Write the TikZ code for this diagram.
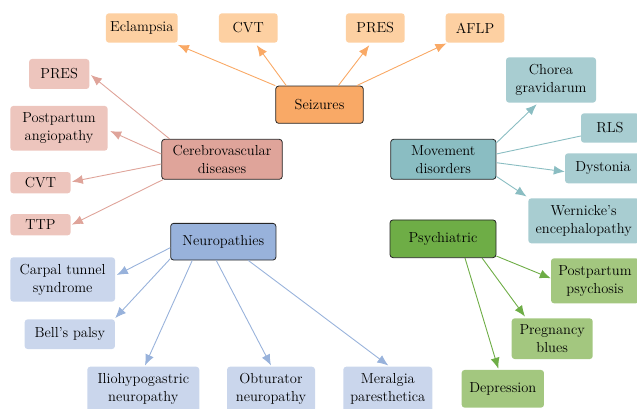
\documentclass[tikz,border=0pt]{standalone}
\usepackage{fontspec}
\usetikzlibrary{arrows.meta}
\definecolor{cSm}{HTML}{F9A966}\definecolor{cSl}{HTML}{FDD0A2}
\definecolor{cCm}{HTML}{DFA49A}\definecolor{cCl}{HTML}{EDC5BD}
\definecolor{cMm}{HTML}{8ABDC2}\definecolor{cMl}{HTML}{A8CDD1}
\definecolor{cNm}{HTML}{98B2DB}\definecolor{cNl}{HTML}{CAD6EC}
\definecolor{cPm}{HTML}{6EAD46}\definecolor{cPl}{HTML}{A3C77F}
\begin{document}
\begin{tikzpicture}[x=1pt,y=-1pt,
  font=\fontsize{14.5}{18}\selectfont,
  box/.style={rounded corners=3pt, inner sep=0pt, align=center, text=black},
  mainbox/.style={box, draw=black!85, line width=0.8pt},
  leafbox/.style={box},
  arr/.style={line width=0.9pt, -{Latex[length=11pt,width=9pt]}},
  lin/.style={line width=0.9pt}]
\useasboundingbox (0,0) rectangle (637,409);
\clip (0,0) rectangle (637,409);
% Seizures
\node[mainbox, fill=cSm, minimum width=87.6pt, minimum height=37.3pt] (seiz) at (319.5,104.7) {Seizures};
\node[leafbox, fill=cSl, minimum width=71.7pt, minimum height=29.4pt] (ecl) at (141.8,28) {Eclampsia};
\node[leafbox, fill=cSl, minimum width=58.7pt, minimum height=29.4pt] (cvta) at (248.3,28) {CVT};
\node[leafbox, fill=cSl, minimum width=58.7pt, minimum height=29.4pt] (presa) at (375.3,28) {PRES};
\node[leafbox, fill=cSl, minimum width=58.7pt, minimum height=29.4pt] (aflp) at (475,28) {AFLP};
% Cerebrovascular
\node[mainbox, fill=cCm, minimum width=120.6pt, minimum height=40pt] (cer) at (222,159.3) {Cerebrovascular\\diseases};
\node[leafbox, fill=cCl, minimum width=60.3pt, minimum height=30pt] (presb) at (59.2,74) {PRES};
\node[leafbox, fill=cCl, minimum width=97.3pt, minimum height=44.7pt] (ppa) at (59,128.3) {Postpartum\\angiopathy};
\node[leafbox, fill=cCl, minimum width=60.3pt, minimum height=21.3pt] (cvtb) at (40.5,182.7) {CVT};
\node[leafbox, fill=cCl, minimum width=60.3pt, minimum height=21.3pt] (ttp) at (40.5,224.7) {TTP};
% Movement
\node[mainbox, fill=cMm, minimum width=105.3pt, minimum height=40pt] (mov) at (443.3,159.3) {Movement\\disorders};
\node[leafbox, fill=cMl, minimum width=90pt, minimum height=45.3pt] (cho) at (551,80) {Chorea\\gravidarum};
\node[leafbox, fill=cMl, minimum width=58pt, minimum height=29.4pt] (rls) at (610,128) {RLS};
\node[leafbox, fill=cMl, minimum width=76pt, minimum height=30pt] (dys) at (603,168.3) {Dystonia};
\node[leafbox, fill=cMl, minimum width=110.7pt, minimum height=45pt] (wer) at (583.7,220.8) {Wernicke’s\\encephalopathy};
% Neuropathies
\node[mainbox, fill=cNm, minimum width=105.3pt, minimum height=36.7pt] (neu) at (223.3,241.7) {Neuropathies};
\node[leafbox, fill=cNl, minimum width=104.7pt, minimum height=44.3pt] (cts) at (62.7,279.5) {Carpal tunnel\\syndrome};
\node[leafbox, fill=cNl, minimum width=90.3pt, minimum height=29.7pt] (bell) at (69.8,334.2) {Bell’s palsy};
\node[leafbox, fill=cNl, minimum width=112pt, minimum height=45pt] (ilio) at (143.3,389.2) {Iliohypogastric\\neuropathy};
\node[leafbox, fill=cNl, minimum width=88pt, minimum height=45pt] (obt) at (271,389.2) {Obturator\\neuropathy};
\node[leafbox, fill=cNl, minimum width=89pt, minimum height=45pt] (mer) at (387.8,389.2) {Meralgia\\paresthetica};
% Psychiatric
\node[mainbox, fill=cPm, minimum width=106pt, minimum height=37.7pt] (psy) at (443,238.8) {Psychiatric};
\node[leafbox, fill=cPl, minimum width=88pt, minimum height=45pt] (pps) at (595,280.8) {Postpartum\\psychosis};
\node[leafbox, fill=cPl, minimum width=81pt, minimum height=40.7pt] (pb) at (552.2,338.7) {Pregnancy\\blues};
\node[leafbox, fill=cPl, minimum width=82.3pt, minimum height=37.7pt] (dep) at (502.8,388.8) {Depression};
% Edges: Seizures
\begin{scope}[draw=cSm]
\draw[arr] (seiz.north west) -- ([yshift=-2pt]ecl.south east);
\draw[arr] ([xshift=11pt]seiz.north west) -- ([xshift=8.4pt,yshift=-2.3pt]cvta.south);
\draw[arr] ([xshift=18.8pt]seiz.north) -- ([xshift=-6pt,yshift=-2.3pt]presa.south);
\draw[arr] ([xshift=37.2pt]seiz.north) -- ([xshift=1pt,yshift=-0.5pt]aflp.south west);
\end{scope}
% Edges: Cerebrovascular
\begin{scope}[draw=cCm]
\draw[arr] ([xshift=8.3pt]cer.north west) -- ([xshift=1.3pt,yshift=-1pt]presb.east);
\draw[arr] ([yshift=5.3pt]cer.west) -- ([xshift=2.3pt,yshift=-2.7pt]ppa.east);
\draw[arr] ([yshift=-4.7pt]cer.west) -- ([xshift=1pt,yshift=1pt]cvtb.east);
\draw[arr] ([xshift=1.6pt]cer.south west) -- ([xshift=1pt]ttp.east);
\end{scope}
% Edges: Movement
\begin{scope}[draw=cMm]
\draw[arr] ([yshift=-4pt]mov.north east) -- ([xshift=-14.3pt,yshift=-1.4pt]cho.south);
\draw[lin] ([yshift=5.3pt]mov.east) -- ([yshift=-8pt]rls.west);
\draw[arr] ([yshift=-3.4pt]mov.east) -- ([yshift=-3.4pt]dys.west);
\draw[arr] ([yshift=3.3pt]mov.south east) -- ([xshift=-1.6pt,yshift=1.6pt]wer.north west);
\end{scope}
% Edges: Neuropathies
\begin{scope}[draw=cNm]
\draw[arr] ([yshift=-6pt]neu.west) -- ([xshift=1.6pt,yshift=4.5pt]cts.east);
\draw[arr] ([yshift=1.7pt]neu.south west) -- ([yshift=1pt]bell.north east);
\draw[arr] ([xshift=22pt]neu.south west) -- ([xshift=1.7pt,yshift=1pt]ilio.north);
\draw[arr] ([xshift=46pt]neu.south west) -- ([yshift=1pt]obt.north);
\draw[arr] ([xshift=25pt]neu.south) -- ([xshift=0.5pt,yshift=1pt]mer.north);
\end{scope}
% Edges: Psychiatric
\begin{scope}[draw=cPm]
\draw[arr] ([yshift=2pt]psy.south east) -- ([yshift=2.5pt]pps.west);
\draw[arr] ([xshift=-14.3pt]psy.south east) -- ([xshift=-27.2pt,yshift=1.6pt]pb.north);
\draw[arr] ([xshift=22pt]psy.south) -- ([xshift=-4.5pt,yshift=1pt]dep.north);
\end{scope}
\end{tikzpicture}
\end{document}
